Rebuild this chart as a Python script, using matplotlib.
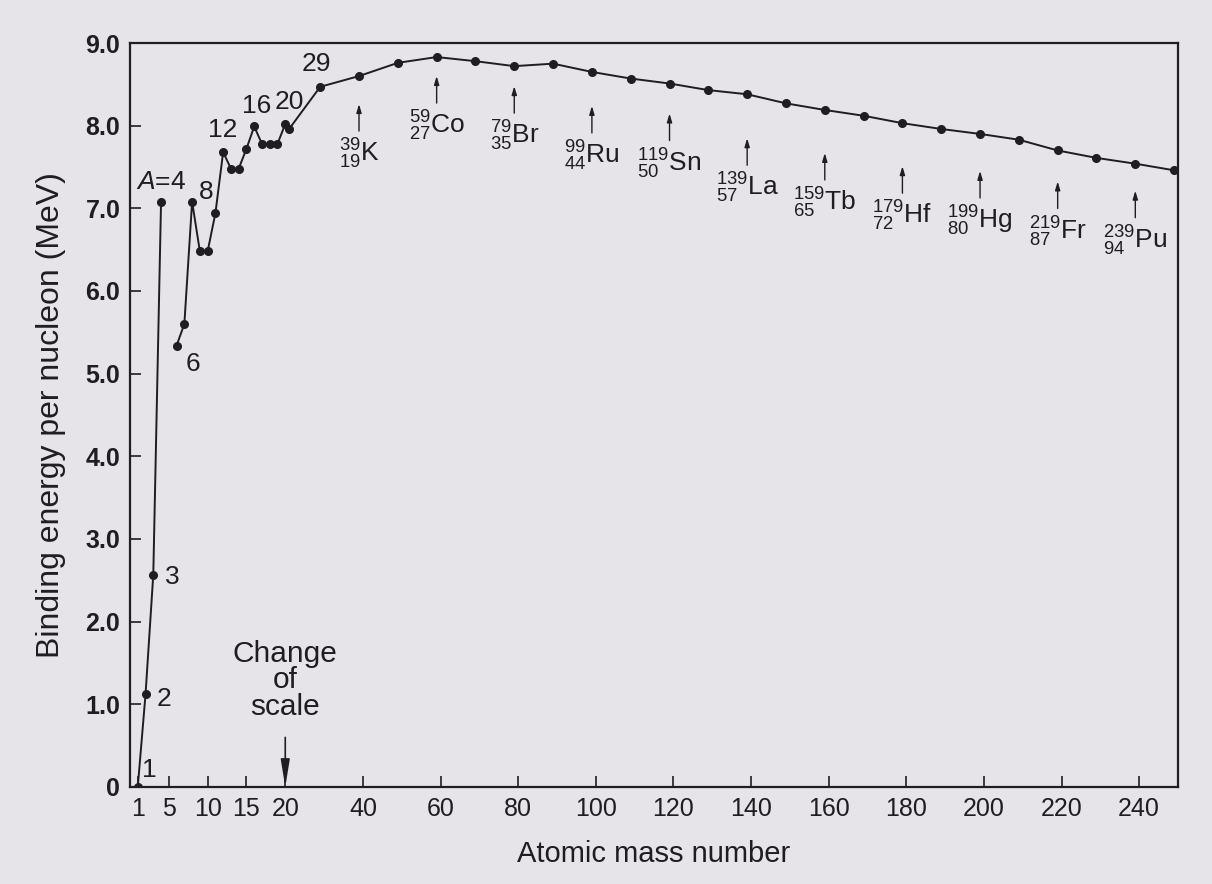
import matplotlib
matplotlib.use('Agg')
import matplotlib.pyplot as plt
import numpy as np

plt.rcParams['font.family'] = ['Liberation Sans', 'DejaVu Sans']
plt.rcParams['mathtext.fontset'] = 'custom'
plt.rcParams['mathtext.rm'] = 'Liberation Sans'
plt.rcParams['mathtext.it'] = 'Liberation Sans:italic'
plt.rcParams['mathtext.bf'] = 'Liberation Sans:bold'

# lightest nuclei (A = 1..4), drawn as their own segment
mass_light = [1, 2, 3, 4]
be_light = [0.0, 1.12, 2.57, 7.08]

# rest of the curve, A = 6 upward
mass_main = [6, 7, 8, 9, 10, 11, 12, 13, 14, 15, 16, 17, 18, 19, 20, 21,
             29, 39, 49, 59, 69, 79, 89, 99, 109, 119, 129, 139, 149, 159,
             169, 179, 189, 199, 209, 219, 229, 239, 249]
be_main = [5.34, 5.60, 7.08, 6.48, 6.48, 6.94, 7.68, 7.48, 7.48, 7.72, 7.99,
           7.78, 7.78, 7.78, 8.02, 7.96,
           8.47, 8.60, 8.76, 8.83, 8.78, 8.72, 8.75, 8.65, 8.57, 8.51, 8.43,
           8.38, 8.27, 8.19, 8.12, 8.03, 7.96, 7.90, 7.83, 7.70, 7.61, 7.54, 7.46]

# small number labels next to the light nuclei
num_text = ['1', '2', '3', '$A$=4', '6', '8', '12', '16', '20', '29']
num_mass = [1, 2, 3, 4, 6, 8, 12, 16, 20, 29]

# nuclides marked with arrows
nuc_mass = [39, 59, 79, 99, 119, 139, 159, 179, 199, 219, 239]
nuc_z = [19, 27, 35, 44, 50, 57, 65, 72, 80, 87, 94]
nuc_sym = ['K', 'Co', 'Br', 'Ru', 'Sn', 'La', 'Tb', 'Hf', 'Hg', 'Fr', 'Pu']

xticks = [1, 5, 10, 15, 20, 40, 60, 80, 100, 120, 140, 160, 180, 200, 220, 240]
yticks = [0, 1, 2, 3, 4, 5, 6, 7, 8, 9]

ink = '#1f1d21'
paper = '#e6e4e8'


# scale is doubled below A = 20 ("change of scale")
def fwd(x):
    x = np.asarray(x, dtype=float)
    return np.where(x <= 20, 2 * x, x + 20)


def inv(t):
    t = np.asarray(t, dtype=float)
    return np.where(t <= 40, t / 2, t - 20)


fig = plt.figure(figsize=(12.12, 8.84), dpi=100, facecolor=paper)
ax = fig.add_axes([130 / 1212, 1 - 787 / 884, (1178 - 130) / 1212, (787 - 43) / 884])
ax.set_facecolor(paper)
ax.set_xscale('function', functions=(fwd, inv))
ax.set_xlim(0, 250)
ax.set_ylim(0, 9)

ax.plot(mass_light, be_light, '-o', color=ink, lw=1.4, ms=5.5)
ax.plot(mass_main, be_main, '-o', color=ink, lw=1.4, ms=5.5)

be_of = dict(zip(mass_light + mass_main, be_light + be_main))

# number labels (offsets in pixels)
num_offsets = [(12, 17), (18, -5), (19, -2), (0, 20), (16, -18), (14, 10),
               (0, 22), (2, 20), (4, 22), (-4, 23)]
for txt, m, (dx, dy) in zip(num_text, num_mass, num_offsets):
    ax.annotate(txt, xy=(m, be_of[m]), xytext=(dx, dy), textcoords='offset pixels',
                ha='center', va='center', fontsize=19, color=ink)

# nuclide arrows and labels
gaps = [28, 19, 20, 34, 30, 44, 43, 43, 37, 31, 27]
for m, z, s, g in zip(nuc_mass, nuc_z, nuc_sym, gaps):
    y = be_of[m]
    ax.annotate('', xy=(m, y), xytext=(0, -(g + 27)), textcoords='offset pixels',
                arrowprops=dict(arrowstyle='-|>,head_length=0.5,head_width=0.15',
                                mutation_scale=10, color=ink, lw=1.0,
                                shrinkA=0, shrinkB=g * 0.72))
    ax.annotate(r'${}^{%d}_{%d}\mathrm{%s}$' % (m, z, s), xy=(m, y),
                xytext=(0, -(g + 33)), textcoords='offset pixels',
                ha='center', va='top', fontsize=19, color=ink)

# change of scale
ax.text(20, 1.29, 'Change\nof\nscale', ha='center', va='center', fontsize=21.5,
        color=ink, linespacing=0.92)
ax.annotate('', xy=(20, 0), xytext=(20, 0.6),
            arrowprops=dict(arrowstyle='-|>,head_length=1.1,head_width=0.18',
                            mutation_scale=15, color=ink, lw=1.2,
                            shrinkA=0, shrinkB=0))

ax.set_xticks(xticks)
ax.set_xticklabels([str(t) for t in xticks])
ax.set_yticks(yticks)
ax.set_yticklabels(['0'] + ['%.1f' % v for v in yticks[1:]], fontweight='bold')
ax.tick_params(axis='both', direction='in', length=8, width=1.2, colors=ink,
               labelsize=18, pad=7)
ax.tick_params(axis='y', labelsize=18)

for sp in ax.spines.values():
    sp.set_linewidth(1.6)
    sp.set_color(ink)

ax.set_xlabel('Atomic mass number', fontsize=21, color=ink, labelpad=14)
ax.set_ylabel('Binding energy per nucleon (MeV)', fontsize=23, color=ink, labelpad=14)

fig.savefig('out.png', dpi=100, facecolor=paper)
